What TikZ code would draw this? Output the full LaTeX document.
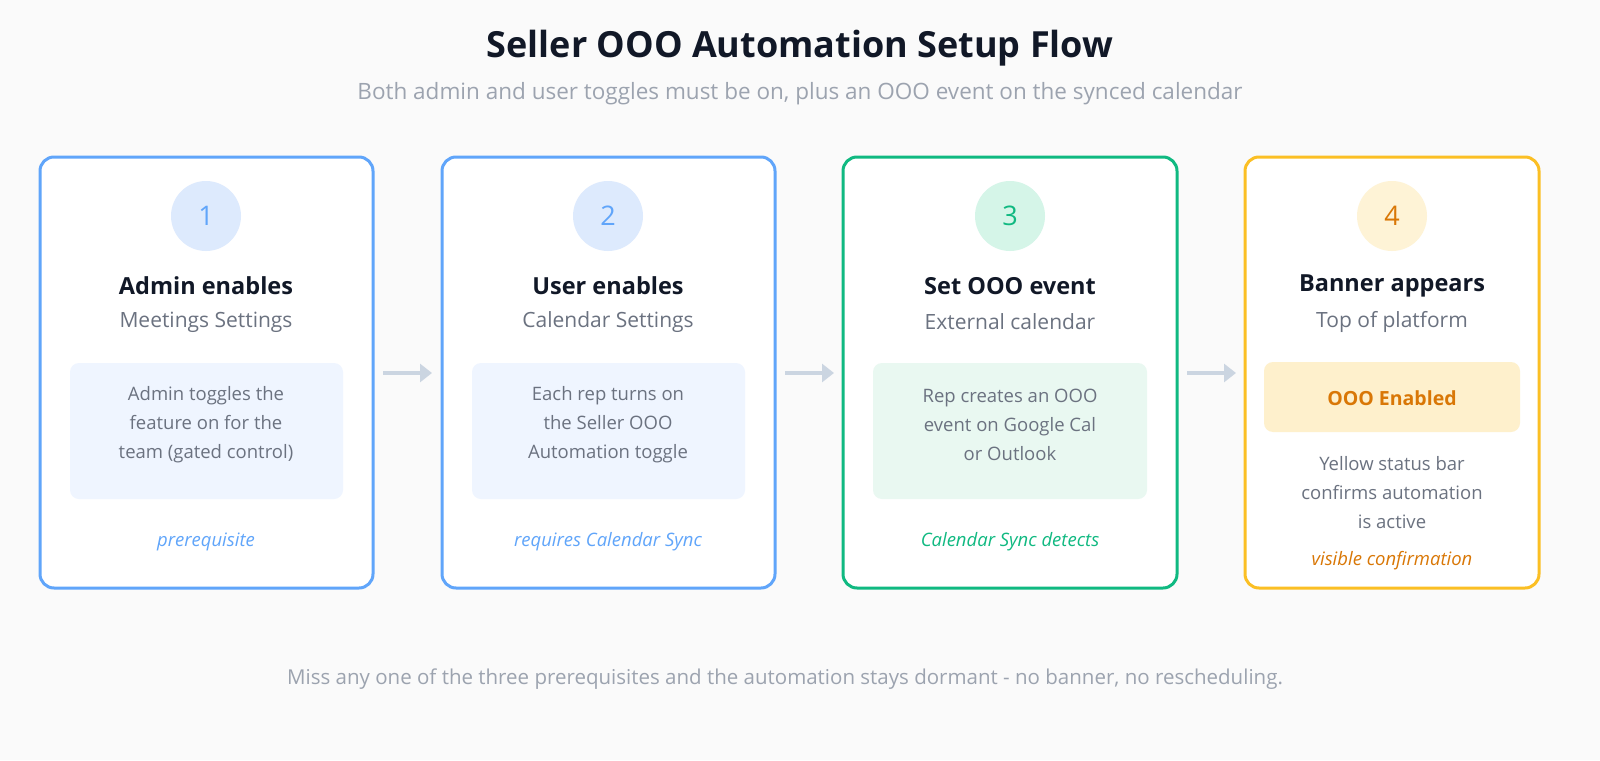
\documentclass[tikz,border=0pt]{standalone}
\usepackage{fontspec}
\setmainfont{Open Sans}
\usetikzlibrary{arrows.meta}
\definecolor{bg}{HTML}{FAFAFA}
\definecolor{ink}{HTML}{111827}
\definecolor{grey}{HTML}{6B7280}
\definecolor{pale}{HTML}{9CA3AF}
\definecolor{blueline}{HTML}{60A5FA}
\definecolor{bluecirc}{HTML}{DDEAFD}
\definecolor{bluebox}{HTML}{EFF5FF}
\definecolor{greenline}{HTML}{10B981}
\definecolor{greencirc}{HTML}{D5F5E8}
\definecolor{greenbox}{HTML}{E9F8F1}
\definecolor{yelline}{HTML}{FBBF24}
\definecolor{yelcirc}{HTML}{FEF3D6}
\definecolor{yelbox}{HTML}{FEF0CC}
\definecolor{yeltext}{HTML}{D97706}
\definecolor{arrowgrey}{HTML}{CBD5E1}
\tikzset{
  card/.style={draw=#1, line width=3pt, fill=white, rounded corners=14pt},
  inner/.style={fill=#1, rounded corners=9pt},
  num/.style={circle, fill=#1, minimum size=70pt, inner sep=0pt, font=\fontsize{27}{30}\selectfont},
  head/.style={text=ink, font=\fontsize{23.5}{27}\selectfont\bfseries},
  sub/.style={text=grey, font=\fontsize{21}{24}\selectfont},
  body/.style={text=grey, align=center, font=\fontsize{18.5}{29}\selectfont},
  tag/.style={font=\fontsize{18.5}{22}\selectfont\itshape},
  flowarrow/.style={draw=arrowgrey, line width=4pt, -{Triangle[length=12pt,width=18pt]}},
}
\begin{document}
\begin{tikzpicture}[x=1pt,y=-1pt]
	\fill[bg] (0,0) rectangle (1600,760);
	\useasboundingbox (0,0) rectangle (1600,760);
	\node[text=ink, font=\fontsize{36}{40}\selectfont\bfseries] (title) at (800,48) {Seller OOO Automation Setup Flow};
	\node[text=pale, font=\fontsize{22.5}{26}\selectfont] (subtitle) at (800,94) {Both admin and user toggles must be on, plus an OOO event on the synced calendar};
	% step 1
	\draw[card=blueline] (40,157) rectangle (373,588);
	\node[num=bluecirc, text=blueline] (n1) at (206,216) {1};
	\node[head] at (206,286) {Admin enables};
	\node[sub] at (206,322) {Meetings Settings};
	\fill[inner=bluebox] (70,363) rectangle (343,499);
	\node[body] (b1) at (206,425) {Admin toggles the\\feature on for the\\team (gated control)};
	\node[tag, text=blueline] at (206,542) {prerequisite};
	% step 2
	\draw[card=blueline] (442,157) rectangle (775,588);
	\node[num=bluecirc, text=blueline] (n2) at (608,216) {2};
	\node[head] at (608,286) {User enables};
	\node[sub] at (608,322) {Calendar Settings};
	\fill[inner=bluebox] (472,363) rectangle (745,499);
	\node[body] (b2) at (608,425) {Each rep turns on\\the Seller OOO\\Automation toggle};
	\node[tag, text=blueline] at (608,542) {requires Calendar Sync};
	% step 3
	\draw[card=greenline] (843,157) rectangle (1177,588);
	\node[num=greencirc, text=greenline] (n3) at (1010,216) {3};
	\node[head] at (1010,286) {Set OOO event};
	\node[sub] at (1010,322) {External calendar};
	\fill[inner=greenbox] (873,363) rectangle (1147,499);
	\node[body] (b3) at (1010,425) {Rep creates an OOO\\event on Google Cal\\or Outlook};
	\node[tag, text=greenline] at (1010,542) {Calendar Sync detects};
	% step 4
	\draw[card=yelline] (1245,157) rectangle (1539,588);
	\node[num=yelcirc, text=yeltext] (n4) at (1392,216) {4};
	\node[head] at (1392,286) {Banner appears};
	\node[sub] at (1392,322) {Top of platform};
	\fill[inner=yelbox] (1264,362) rectangle (1520,432);
	\node[text=yeltext, font=\fontsize{19.5}{22}\selectfont\bfseries] (b4) at (1392,398) {OOO Enabled};
	\node[body] at (1392,493) {Yellow status bar\\confirms automation\\is active};
	\node[tag, text=yeltext] at (1392,561) {visible confirmation};
	% arrows
	\coordinate (a1) at (383,373); \coordinate (a2) at (432,373);
	\coordinate (a3) at (785,373); \coordinate (a4) at (834,373);
	\coordinate (a5) at (1187,373); \coordinate (a6) at (1236,373);
	\draw[flowarrow] (a1) -- (a2);
	\draw[flowarrow] (a3) -- (a4);
	\draw[flowarrow] (a5) -- (a6);
	\node[text=pale, font=\fontsize{20.5}{24}\selectfont] (footer) at (785,679) {Miss any one of the three prerequisites and the automation stays dormant - no banner, no rescheduling.};
\end{tikzpicture}
\end{document}
